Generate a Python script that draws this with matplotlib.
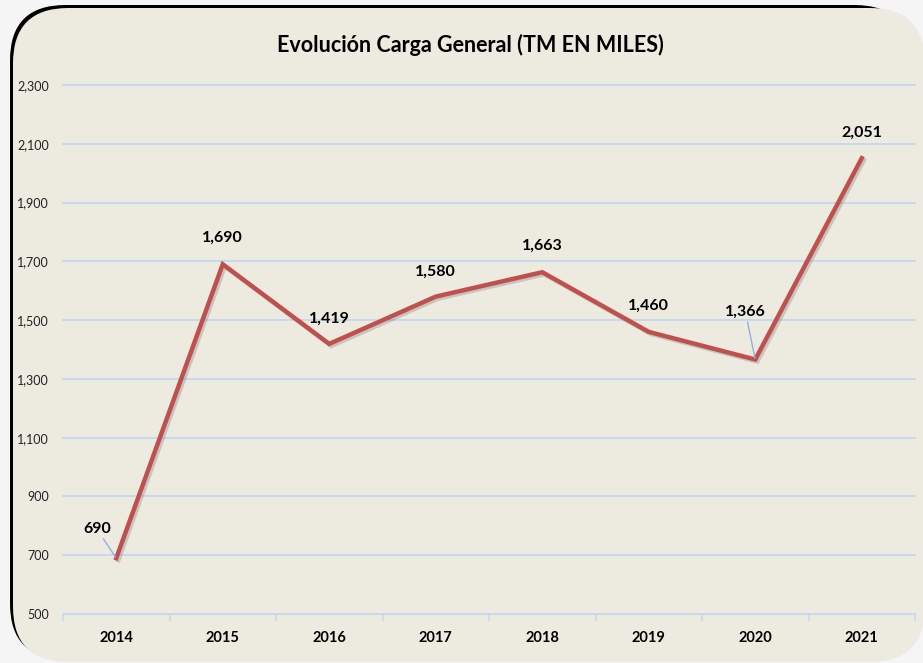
import matplotlib.pyplot as plt
from matplotlib.patches import FancyBboxPatch
import matplotlib.patheffects as pe

plt.rcParams['font.family'] = ['Lato', 'DejaVu Sans']

# datos
anios = ['2014', '2015', '2016', '2017', '2018', '2019', '2020', '2021']
carga = [690, 1690, 1419, 1580, 1663, 1460, 1366, 2051]
etiquetas = ['690', '1,690', '1,419', '1,580', '1,663', '1,460', '1,366', '2,051']
y_ticks = [500, 700, 900, 1100, 1300, 1500, 1700, 1900, 2100, 2300]

fondo = '#EDEAE0'
rojo = '#C0504D'
azul_claro = '#C6D9F0'

fig = plt.figure(figsize=(9.23, 6.63), dpi=100)
fig.patch.set_facecolor('#F5F5F5')

# tarjeta con sombra oscura arriba y a la izquierda
W, H = 923, 663
sombra = FancyBboxPatch((10 / W, 4 / H), 900 / W, 654 / H,
                        boxstyle='round,pad=0,rounding_size=0.06',
                        transform=fig.transFigure, facecolor='black',
                        edgecolor='none', mutation_aspect=W / H, zorder=0)
tarjeta = FancyBboxPatch((13 / W, 1 / H), 912 / W, 654 / H,
                         boxstyle='round,pad=0,rounding_size=0.06',
                         transform=fig.transFigure, facecolor=fondo,
                         edgecolor='none', mutation_aspect=W / H, zorder=0)
fig.patches.extend([sombra, tarjeta])

ax = fig.add_axes([63 / W, 1 - 614 / H, (915 - 63) / W, (614 - 85) / H])
ax.set_zorder(2)
ax.set_facecolor('none')

x = list(range(len(anios)))
ax.plot(x, carga, color=rojo, linewidth=3.2, solid_joinstyle='miter', zorder=3,
        path_effects=[pe.SimpleLineShadow(offset=(1.5, -1.5), shadow_color='gray', alpha=0.35),
                      pe.Normal()])

ax.set_xlim(-0.5, 7.5)
ax.set_ylim(500, 2300)
ax.set_yticks(y_ticks)
ax.set_yticklabels([f'{v:,}' for v in y_ticks], fontsize=9, color='#222222')
ax.set_xticks(x)
ax.set_xticklabels(anios, fontsize=10.5, fontweight='bold')
ax.set_xticks([i - 0.5 for i in range(len(anios) + 1)], minor=True)
ax.tick_params(axis='x', which='major', length=0, pad=12)
ax.tick_params(axis='x', which='minor', length=5, color=azul_claro, width=1.2)
ax.tick_params(axis='y', length=0, pad=10)

ax.grid(axis='y', color=azul_claro, linewidth=1.4)
for gl in ax.get_ygridlines():
    gl.set_clip_on(False)
ax.set_axisbelow(True)
for lado in ['top', 'right', 'left']:
    ax.spines[lado].set_visible(False)
ax.spines['bottom'].set_color(azul_claro)
ax.spines['bottom'].set_linewidth(1.4)

# etiquetas de datos (desplazamiento en puntos)
desplaz = [(-14, 21), (0, 19), (0, 18), (0, 18), (0, 19), (0, 19), (-7, 34), (0, 18)]
for i, (txt, (dx, dy)) in enumerate(zip(etiquetas, desplaz)):
    if i in (0, 6):
        ax.annotate(txt, (x[i], carga[i]), xytext=(dx, dy), textcoords='offset points',
                    ha='center', va='center', fontsize=11.5, fontweight='bold',
                    arrowprops=dict(arrowstyle='-', color='#8DB3E2', linewidth=1,
                                    shrinkA=0, shrinkB=1))
    else:
        ax.annotate(txt, (x[i], carga[i]), xytext=(dx, dy), textcoords='offset points',
                    ha='center', va='center', fontsize=11.5, fontweight='bold')

fig.text(470 / W, 1 - 45 / H, 'Evolución Carga General (TM EN MILES)',
         ha='center', va='center', fontsize=15.5, fontweight='bold')

fig.savefig('out.png', dpi=100, facecolor=fig.get_facecolor())
